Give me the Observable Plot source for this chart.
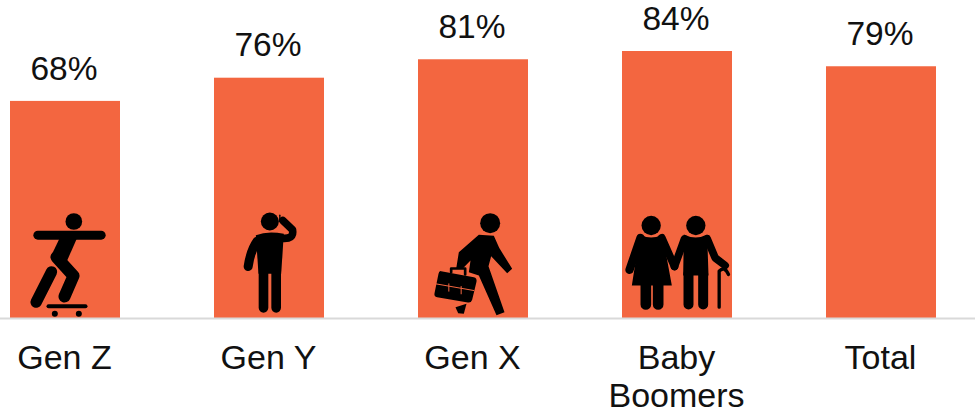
<!DOCTYPE html>
<html><head><meta charset="utf-8">
<script src="https://cdn.jsdelivr.net/npm/d3@7"></script>
<script src="https://cdn.jsdelivr.net/npm/@observablehq/plot@0.6"></script>
<style>html,body{margin:0;padding:0;background:#fff}svg{display:block}</style>
</head><body><div id="chart"></div>
<script>
const categories = ["Gen Z","Gen Y","Gen X","Baby Boomers","Total"];
const barValues = [68.3,75.6,81.4,84,79.2];
const valueLabels = ["68%","76%","81%","84%","79%"];
const tickLines = ["Gen Z","Gen Y","Gen X","Baby\nBoomers","Total"];

const svgIcon = (vb, body) => "data:image/svg+xml," + encodeURIComponent(
  `<svg xmlns="http://www.w3.org/2000/svg" viewBox="${vb} 330 330" width="110" height="110" fill="#000" stroke-linecap="round" stroke-linejoin="round">${body}</svg>`);
const iconSkater = svgIcon("30 24",`
<circle cx="220" cy="63" r="25"/>
<path d="M112 104H302" stroke="#000" stroke-width="27" fill="none"/>
<path d="M178 112H230L200 180L168 185L150 170Z"/>
<path d="M168 170L219 226L192 288" stroke="#000" stroke-width="36" fill="none"/>
<path d="M153 214L107 305" stroke="#000" stroke-width="34" fill="none"/>
<path d="M144 317H255" stroke="#000" stroke-width="12" fill="none"/>
<circle cx="163" cy="340" r="9"/><circle cx="235" cy="340" r="9"/>`);
const iconPhone = svgIcon("640 24",`
<circle cx="806" cy="63" r="27"/>
<path d="M764 104Q800 90 848 100L840 220H772Z"/>
<path d="M768 122Q748 150 741 198" stroke="#000" stroke-width="27" fill="none"/>
<path d="M840 113Q880 118 874 88L845 60" stroke="#000" stroke-width="23" fill="none"/>
<path d="M836 44V62" stroke="#000" stroke-width="4" fill="none"/>
<path d="M787 205V322M825 205V322" stroke="#000" stroke-width="29" fill="none"/>`);
const iconWorker = svgIcon("24 24",`
<circle cx="239" cy="68" r="30"/>
<path d="M205 103L250 106L266 142L305 205L290 218L242 167L234 197L282 335L258 344L205 225L175 215L180 180L156 205L137 205L145 155Z"/>
<path d="M135 320L168 310L160 340L143 338Z"/>
<path d="M92 212L190 230Q200 232 198 244L185 298Q182 308 172 306L80 290Q70 288 72 278L84 220Q86 210 92 212Z"/>
<path d="M122 215V204H164V222" stroke="#000" stroke-width="8" fill="none"/>
<path d="M76 250L190 270M115 250V272M152 258V280" stroke="#F36640" stroke-width="3" fill="none"/>`);
const iconCouple = svgIcon("634 24",`
<circle cx="720" cy="75" r="29"/><circle cx="854" cy="75" r="29"/>
<path d="M686 102Q720 120 754 102L782 255H662Z"/>
<path d="M688 112L655 208" stroke="#000" stroke-width="25" fill="none"/>
<path d="M752 112L790 198" stroke="#000" stroke-width="23" fill="none"/>
<path d="M704 250V312M741 250V312" stroke="#000" stroke-width="32" fill="none"/>
<path d="M818 102Q854 120 888 102L892 225H816Z"/>
<path d="M820 115L790 198" stroke="#000" stroke-width="23" fill="none"/>
<path d="M888 115L912 172L942 195" stroke="#000" stroke-width="23" fill="none"/>
<path d="M832 220V312M876 220V312" stroke="#000" stroke-width="30" fill="none"/>
<path d="M924 320V212Q940 195 952 222" stroke="#000" stroke-width="10" fill="none"/>`);
const iconSources = [iconSkater, iconPhone, iconWorker, iconCouple, null];

const rows = categories.map((c,i)=>({category:c,value:barValues[i],label:valueLabels[i],icon:iconSources[i],tick:tickLines[i]}));

const chart = Plot.plot({
  width:975, height:416,
  marginTop:0, marginLeft:0, marginRight:0, marginBottom:98,
  style:{fontFamily:"'Liberation Sans',Arial,sans-serif",background:"#fff"},
  x:{domain:categories,range:[10,936],paddingInner:0.461,paddingOuter:0,label:null},
  y:{domain:[0,84],range:[318,51],axis:null},
  marks:[
    Plot.barY(rows,{x:"category",y:"value",fill:"#F36640"}),
    Plot.ruleY([0],{stroke:"#d9d9d9",strokeWidth:2}),
    Plot.image(rows.filter(d=>d.icon),{x:"category",y:17.3,src:"icon",width:110,height:110}),
    Plot.text(rows,{x:"category",y:"value",text:"label",dx:-1.5,dy:-32.5,fontSize:33.5,fill:"#111"}),
    Plot.axisX({domain:categories,tickSize:0,tickPadding:23,fontSize:34,dx:-1,fill:"#111",label:null,lineHeight:1.13,
      tickFormat:(d,i)=>tickLines[categories.indexOf(d)]})
  ]
});
document.getElementById("chart").appendChild(chart);
</script></body></html>
